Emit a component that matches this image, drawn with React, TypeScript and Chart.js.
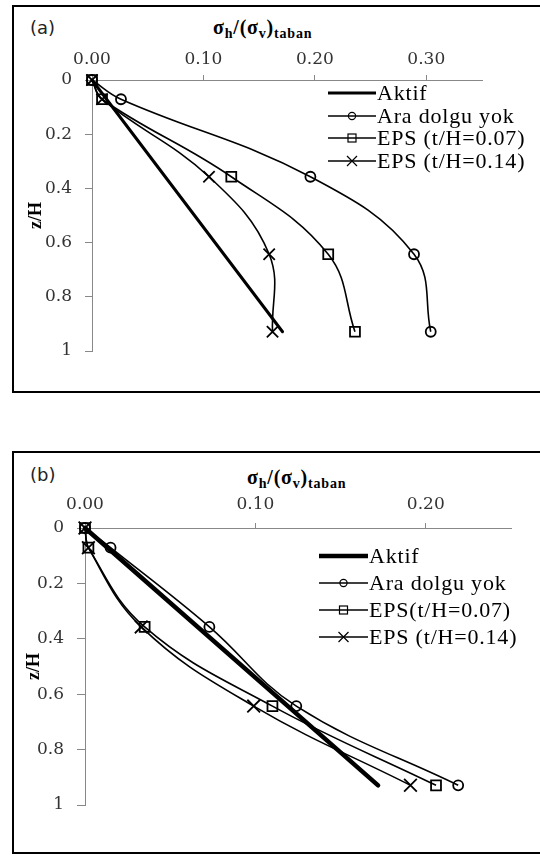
import React, { useEffect, useRef } from 'react';
import { Chart, registerables } from 'chart.js';

Chart.register(...registerables);

// depth levels z/H (shared by all measured series)
const zLevels = [0, 0.071, 0.357, 0.643, 0.929];
const aktifZ = [0, 0.929];

const namesA = ['Aktif', 'Ara dolgu yok', 'EPS (t/H=0.07)', 'EPS (t/H=0.14)'];
const namesB = ['Aktif', 'Ara dolgu yok', 'EPS(t/H=0.07)', 'EPS (t/H=0.14)'];

// panel (a) values  σh/(σv)taban
const aAktif = [0, 0.171];
const aAraDolgu = [0, 0.026, 0.196, 0.289, 0.304];
const aEps007 = [0, 0.009, 0.125, 0.212, 0.236];
const aEps014 = [0, 0.009, 0.105, 0.159, 0.162];

// panel (b) values
const bAktif = [0, 0.172];
const bAraDolgu = [0, 0.015, 0.073, 0.124, 0.219];
const bEps007 = [0, 0.002, 0.035, 0.110, 0.206];
const bEps014 = [0, 0.002, 0.033, 0.099, 0.191];

const yTickLabels: Record<string, string> = { '0': '0', '0.2': '0.2', '0.4': '0.4', '0.6': '0.6', '0.8': '0.8', '1': '1' };

const SERIF = '"Liberation Serif", "Times New Roman", serif';

type PanelProps = {
  top: number;
  height: number;
  area: { left: number; right: number; top: number; bottom: number };
  xMax: number;
  aktif: number[];
  series: number[][];
  names: string[];
  legend: { x1: number; x2: number; rows: number[]; font: number };
  aktifWidth: number;
  xLabelPad: number;
  xTickLen: number;
  yTickLen: number;
  yLabelPad: number;
  zTitleX: number;
  crossR: number;
};

function Panel(p: PanelProps) {
  const ref = useRef<HTMLCanvasElement>(null);

  useEffect(() => {
    const canvas = ref.current!;
    const styles = ['circle', 'rect', 'crossRot'];
    const radii = [5, 7, p.crossR];

    const datasets: any[] = [
      {
        label: p.names[0],
        data: p.aktif.map((x, i) => ({ x, y: aktifZ[i] })),
        borderColor: '#000',
        borderWidth: p.aktifWidth,
        borderCapStyle: 'round',
        pointRadius: 0,
        showLine: true,
        clip: false,
      },
      ...p.series.map((xs, k) => ({
        label: p.names[k + 1],
        data: xs.map((x, i) => ({ x, y: zLevels[i] })),
        borderColor: '#000',
        borderWidth: 1.6,
        pointStyle: styles[k],
        pointRadius: radii[k],
        pointBorderWidth: 1.8,
        pointBorderColor: '#000',
        pointBackgroundColor: 'rgba(0,0,0,0)',
        showLine: true,
        tension: 0.4,
        clip: false,
      })),
    ];

    const legendPlugin = {
      id: 'lineMarkerLegend',
      afterDraw(chart: any) {
        const ctx = chart.ctx as CanvasRenderingContext2D;
        ctx.save();
        p.legend.rows.forEach((y, i) => {
          const ds = chart.data.datasets[i];
          ctx.strokeStyle = '#000';
          ctx.lineWidth = ds.borderWidth;
          ctx.lineCap = 'butt';
          ctx.beginPath();
          ctx.moveTo(p.legend.x1, y);
          ctx.lineTo(p.legend.x2, y);
          ctx.stroke();
          const cx = (p.legend.x1 + p.legend.x2) / 2;
          ctx.lineWidth = 1.2;
          if (i === 1) {
            ctx.beginPath();
            ctx.arc(cx, y, 3.6, 0, Math.PI * 2);
            ctx.stroke();
          } else if (i === 2) {
            ctx.strokeRect(cx - 4, y - 4, 8, 8);
          } else if (i === 3) {
            ctx.beginPath();
            ctx.moveTo(cx - 5, y - 5);
            ctx.lineTo(cx + 5, y + 5);
            ctx.moveTo(cx - 5, y + 5);
            ctx.lineTo(cx + 5, y - 5);
            ctx.stroke();
          }
          ctx.fillStyle = '#000';
          ctx.font = `${p.legend.font}px ${SERIF}`;
          (ctx as any).letterSpacing = '0.8px';
          ctx.textBaseline = 'middle';
          ctx.textAlign = 'left';
          ctx.fillText(p.names[i], p.legend.x2 + 1, y + 1);
        });
        ctx.restore();
      },
    };

    const chart = new Chart(canvas, {
      type: 'scatter',
      data: { datasets },
      options: {
        responsive: false,
        animation: false,
        devicePixelRatio: 1,
        events: [],
        layout: {
          padding: {
            left: 0,
            top: 0,
            right: 540 - p.area.right,
            bottom: p.height - p.area.bottom,
          },
        },
        plugins: { legend: { display: false }, tooltip: { enabled: false } },
        scales: {
          x: {
            type: 'linear',
            position: 'top',
            min: 0,
            max: p.xMax,
            afterFit: (s: any) => {
              s.height = p.area.top;
            },
            ticks: {
              stepSize: 0.1,
              includeBounds: false,
              callback: (v: any) => Number(v).toFixed(2),
              font: { family: '"DejaVu Serif", serif', size: 17 },
              color: '#333',
              padding: p.xLabelPad,
              maxRotation: 0,
            },
            grid: { drawOnChartArea: false, tickLength: p.xTickLen, color: '#888', lineWidth: 1 },
            border: { color: '#888', width: 1 },
          },
          y: {
            type: 'linear',
            reverse: true,
            min: 0,
            max: 1,
            afterFit: (s: any) => {
              s.width = p.area.left;
            },
            ticks: {
              stepSize: 0.2,
              callback: (v: any) => yTickLabels[String(Math.round(Number(v) * 10) / 10)] ?? '',
              font: { family: '"DejaVu Serif", serif', size: 17 },
              color: '#333',
              padding: p.yLabelPad,
            },
            grid: { drawOnChartArea: false, tickLength: p.yTickLen, color: '#888', lineWidth: 1 },
            border: { color: '#888', width: 1 },
            title: {
              display: true,
              text: 'z/H',
              color: '#000',
              font: { family: SERIF, size: 18, weight: 'bold' },
              padding: { top: p.zTitleX - 10.8, bottom: 0 },
            },
          },
        },
      } as any,
      plugins: [legendPlugin],
    });
    return () => chart.destroy();
  }, []);

  return (
    <canvas
      ref={ref}
      width={540}
      height={p.height}
      style={{ position: 'absolute', left: 0, top: p.top, width: 540, height: p.height }}
    />
  );
}

function AxisTitle({ left, top }: { left: number; top: number }) {
  const sub: React.CSSProperties = { fontSize: 14, position: 'relative', top: 4 };
  return (
    <div
      style={{
        position: 'absolute',
        left,
        top,
        fontFamily: SERIF,
        fontWeight: 'bold',
        fontSize: 20,
        lineHeight: '20px',
        letterSpacing: '0.8px',
        whiteSpace: 'nowrap',
        color: '#000',
      }}
    >
      σ<span style={sub}>h</span>/(σ<span style={sub}>v</span>)<span style={sub}>taban</span>
    </div>
  );
}

function PanelLabel({ text, top }: { text: string; top: number }) {
  return (
    <div
      style={{
        position: 'absolute',
        left: 30,
        top,
        fontFamily: '"DejaVu Sans", sans-serif',
        fontSize: 18,
        lineHeight: '18px',
        color: '#222',
      }}
    >
      {text}
    </div>
  );
}

export default function App() {
  const box: React.CSSProperties = {
    position: 'absolute',
    left: 12,
    width: 528,
    boxSizing: 'border-box',
    borderTop: '2px solid #000',
    borderLeft: '2px solid #000',
    borderBottom: '2px solid #000',
  };
  return (
    <div style={{ position: 'absolute', left: 0, top: 0, width: 540, height: 856, overflow: 'hidden', background: '#fff' }}>
      <div style={{ ...box, top: 5, height: 388 }} />
      <div style={{ ...box, top: 451, height: 403 }} />
      <PanelLabel text="(a)" top={19} />
      <PanelLabel text="(b)" top={466} />
      <AxisTitle left={213} top={17} />
      <AxisTitle left={247} top={467} />
      <Panel
        top={0}
        height={400}
        area={{ left: 92, right: 482, top: 80, bottom: 351 }}
        xMax={0.35}
        aktif={aAktif}
        series={[aAraDolgu, aEps007, aEps014]}
        names={namesA}
        legend={{ x1: 328, x2: 376, rows: [93, 116, 138, 161], font: 22 }}
        aktifWidth={3}
        xLabelPad={5}
        xTickLen={5}
        yTickLen={7}
        yLabelPad={13}
        zTitleX={36}
        crossR={8}
      />
      <Panel
        top={420}
        height={436}
        area={{ left: 85, right: 511, top: 108, bottom: 385 }}
        xMax={0.25}
        aktif={bAktif}
        series={[bAraDolgu, bEps007, bEps014]}
        names={namesB}
        legend={{ x1: 319, x2: 368, rows: [136, 163, 190, 217], font: 22 }}
        aktifWidth={4.5}
        xLabelPad={8}
        xTickLen={5}
        yTickLen={8}
        yLabelPad={13}
        zTitleX={34}
        crossR={9}
      />
    </div>
  );
}
